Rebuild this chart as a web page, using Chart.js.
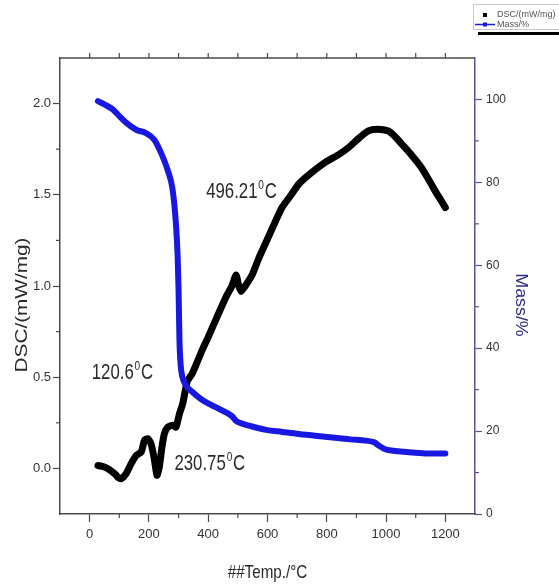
<!DOCTYPE html>
<html><head><meta charset="utf-8">
<script src="https://cdn.jsdelivr.net/npm/chart.js@4.4.1/dist/chart.umd.min.js"></script>
<style>html,body{margin:0;padding:0;background:#fff;}canvas{display:block}</style>
</head><body>
<canvas id="c" width="559" height="585"></canvas>
<script>
// ---- data ----
const seriesLabels = ['DSC/(mW/mg)', 'Mass/%'];
const tempDSC = [28, 45, 67, 85, 95, 106, 123, 140, 157, 174, 185, 196, 207, 218, 227, 235, 244, 252, 263, 280, 291, 303, 314, 323, 330, 346, 362, 380, 400, 427, 460, 480, 494, 503, 511, 525, 548, 570, 595, 620, 649, 680, 706, 740, 797, 840, 874, 908, 940, 970, 1008, 1030, 1052, 1085, 1119, 1145, 1166, 1185, 1200];
const dscValues = [0.016, 0.01, -0.007, -0.03, -0.048, -0.057, -0.029, 0.026, 0.071, 0.09, 0.154, 0.163, 0.135, 0.053, -0.038, 0.007, 0.117, 0.19, 0.226, 0.236, 0.226, 0.30, 0.355, 0.43, 0.48, 0.52, 0.58, 0.65, 0.72, 0.82, 0.94, 1.0, 1.06, 1.0, 0.97, 1.0, 1.06, 1.15, 1.24, 1.33, 1.43, 1.50, 1.56, 1.61, 1.68, 1.72, 1.76, 1.81, 1.85, 1.86, 1.85, 1.82, 1.78, 1.72, 1.65, 1.58, 1.52, 1.47, 1.43];
const tempMass = [28, 50, 78, 100, 123, 157, 190, 218, 241, 263, 280, 291, 297, 300, 303, 307, 313, 325, 346, 380, 427, 480, 495, 514, 538, 595, 650, 706, 800, 880, 931, 960, 975, 995, 1018, 1060, 1098, 1150, 1200];
const massValues = [99.6, 98.8, 97.6, 96.0, 94.4, 92.7, 91.9, 90.3, 87.1, 83.0, 78.2, 70.1, 62.0, 54.0, 42.0, 36.0, 33.0, 31.0, 29.5, 27.5, 25.7, 23.6, 22.4, 21.8, 21.3, 20.3, 19.8, 19.3, 18.6, 18.0, 17.7, 17.3, 16.5, 15.7, 15.3, 15.0, 14.8, 14.6, 14.6];
const xTicks = [0, 200, 400, 600, 800, 1000, 1200];
const dscTicks = [0, 0.5, 1.0, 1.5, 2.0];
const massTicks = [0, 20, 40, 60, 80, 100];
const axisTitles = { x: '##Temp./°C', y: 'DSC/(mW/mg)', y2: 'Mass/%' };
const peakLabels = ['496.21', '120.6', '230.75'];
const peakAnchors = [[393, 1.48], [7, 0.49], [286, -0.01]]; // label anchor in data coords (T, DSC)

const BLUE = '#1818e2';
const AXIS = '#4a4a4a';
const RAXIS = '#55558c';

function midpoints(arr, lo, hi) {
  const step = arr[1] - arr[0];
  const out = [];
  for (let v = arr[0] - step / 2; v <= arr[arr.length - 1] + step / 2 + 1e-9; v += step) {
    if (v > lo + 1e-9 && v < hi - 1e-9) out.push(v);
  }
  return out;
}

const extras = {
  id: 'extras',
  afterDraw(chart) {
    const ctx = chart.ctx, ca = chart.chartArea;
    const sx = chart.scales.x, sy = chart.scales.y, sy2 = chart.scales.y2;
    ctx.save();
    // top frame
    ctx.strokeStyle = AXIS; ctx.lineWidth = 1.5;
    ctx.beginPath(); ctx.moveTo(ca.left, ca.top); ctx.lineTo(ca.right, ca.top); ctx.stroke();
    ctx.lineWidth = 1.2;
    // top ticks (major+minor)
    const allX = xTicks.concat(midpoints(xTicks, sx.min, sx.max));
    allX.forEach(v => { const p = sx.getPixelForValue(v); ctx.beginPath(); ctx.moveTo(p, ca.top); ctx.lineTo(p, ca.top - 5); ctx.stroke(); });
    // bottom minor ticks
    midpoints(xTicks, sx.min, sx.max).forEach(v => { const p = sx.getPixelForValue(v); ctx.beginPath(); ctx.moveTo(p, ca.bottom); ctx.lineTo(p, ca.bottom + 4); ctx.stroke(); });
    // left minor ticks
    midpoints(dscTicks, sy.min, sy.max).forEach(v => { const p = sy.getPixelForValue(v); ctx.beginPath(); ctx.moveTo(ca.left, p); ctx.lineTo(ca.left - 4, p); ctx.stroke(); });
    // right minor ticks
    ctx.strokeStyle = RAXIS;
    midpoints(massTicks, sy2.min, sy2.max).forEach(v => { const p = sy2.getPixelForValue(v); ctx.beginPath(); ctx.moveTo(ca.right, p); ctx.lineTo(ca.right + 4, p); ctx.stroke(); });

    // axis titles
    const cy = 305;
    ctx.fillStyle = '#2a2a2a';
    ctx.textAlign = 'center'; ctx.textBaseline = 'middle';
    ctx.save(); ctx.translate(22, cy); ctx.rotate(-Math.PI / 2); ctx.scale(1.22, 1);
    ctx.font = '17px "Liberation Sans", Arial, sans-serif'; ctx.fillText(axisTitles.y, 0, 0); ctx.restore();
    ctx.save(); ctx.fillStyle = '#2e2e8c'; ctx.translate(521, cy); ctx.rotate(Math.PI / 2); ctx.scale(1.05, 1);
    ctx.font = '17px "Liberation Sans", Arial, sans-serif'; ctx.fillText(axisTitles.y2, 0, 0); ctx.restore();
    ctx.save(); ctx.translate((ca.left + ca.right) / 2, 573); ctx.scale(0.95, 1.2);
    ctx.font = '16px "Liberation Sans", Arial, sans-serif'; ctx.fillText(axisTitles.x, 0, 0); ctx.restore();

    // peak annotations
    ctx.fillStyle = '#2a2a2a'; ctx.textAlign = 'left'; ctx.textBaseline = 'alphabetic';
    peakLabels.forEach((txt, i) => {
      const px = sx.getPixelForValue(peakAnchors[i][0]);
      const py = sy.getPixelForValue(peakAnchors[i][1]);
      ctx.save(); ctx.translate(px, py); ctx.scale(0.84, 1.12);
      ctx.font = '20px "Liberation Sans", Arial, sans-serif';
      ctx.fillText(txt, 0, 0);
      let w = ctx.measureText(txt).width + 1;
      ctx.font = '12px "Liberation Sans", Arial, sans-serif';
      ctx.fillText('0', w, -8);
      w += ctx.measureText('0').width + 1;
      ctx.font = '20px "Liberation Sans", Arial, sans-serif';
      ctx.fillText('C', w, 0);
      ctx.restore();
    });

    // legend
    ctx.strokeStyle = '#c8c8c8'; ctx.lineWidth = 1;
    ctx.strokeRect(473.5, 4.5, 90, 25);
    ctx.font = '9px "Liberation Sans", Arial, sans-serif'; ctx.textBaseline = 'middle';
    ctx.fillStyle = '#000'; ctx.fillRect(483, 13, 4, 4);
    ctx.strokeStyle = BLUE; ctx.lineWidth = 1.5;
    ctx.beginPath(); ctx.moveTo(475, 24.5); ctx.lineTo(495, 24.5); ctx.stroke();
    ctx.fillStyle = BLUE; ctx.fillRect(483, 22.5, 4, 4);
    ctx.fillStyle = '#555';
    ctx.fillText(chart.data.datasets[0].label, 497, 15);
    ctx.fillText(chart.data.datasets[1].label, 497, 25);
    ctx.fillStyle = '#000'; ctx.fillRect(478, 32, 81, 3);
    ctx.restore();
  }
};

const tickFont = { family: '"Liberation Sans", Arial, sans-serif', size: 13 };

new Chart(document.getElementById('c'), {
  type: 'line',
  data: {
    datasets: [
      { label: seriesLabels[0], data: tempDSC.map((t, i) => ({ x: t, y: dscValues[i] })), yAxisID: 'y',
        borderColor: '#000', borderWidth: 7, pointRadius: 0, tension: 0.2, borderCapStyle: 'round', borderJoinStyle: 'round', order: 1 },
      { label: seriesLabels[1], data: tempMass.map((t, i) => ({ x: t, y: massValues[i] })), yAxisID: 'y2',
        borderColor: BLUE, borderWidth: 6, pointRadius: 0, cubicInterpolationMode: 'monotone', borderCapStyle: 'round', borderJoinStyle: 'round', order: 0 }
    ]
  },
  options: {
    responsive: false, animation: false, devicePixelRatio: 1,
    layout: { padding: { top: 58, left: 0, right: 0, bottom: 0 } },
    plugins: { legend: { display: false }, tooltip: { enabled: false } },
    scales: {
      x: { type: 'linear', min: -100, max: 1300,
        afterBuildTicks: s => { s.ticks = xTicks.map(v => ({ value: v })); },
        afterFit: s => { s.height = 71; },
        grid: { drawOnChartArea: false, tickLength: 8, color: AXIS, tickWidth: 1.2 },
        border: { color: AXIS, width: 1.5 },
        ticks: { font: tickFont, color: '#333', padding: 5, maxRotation: 0, autoSkip: false, callback: v => String(v) } },
      y: { type: 'linear', position: 'left', min: -0.25, max: 2.25,
        afterBuildTicks: s => { s.ticks = dscTicks.map(v => ({ value: v })); },
        afterFit: s => { s.width = 60; },
        grid: { drawOnChartArea: false, tickLength: 7, color: AXIS, tickWidth: 1.2 },
        border: { color: AXIS, width: 1.5 },
        ticks: { font: tickFont, color: '#333', padding: 2, callback: v => v.toFixed(1) } },
      y2: { type: 'linear', position: 'right', min: 0, max: 110,
        afterBuildTicks: s => { s.ticks = massTicks.map(v => ({ value: v })); },
        afterFit: s => { s.width = 84; },
        grid: { drawOnChartArea: false, tickLength: 7, color: RAXIS, tickWidth: 1.2 },
        border: { color: RAXIS, width: 1.5 },
        ticks: { font: { family: tickFont.family, size: 12 }, color: '#333', padding: 4, callback: v => String(v) } }
    }
  },
  plugins: [extras]
});
</script>
</body></html>
